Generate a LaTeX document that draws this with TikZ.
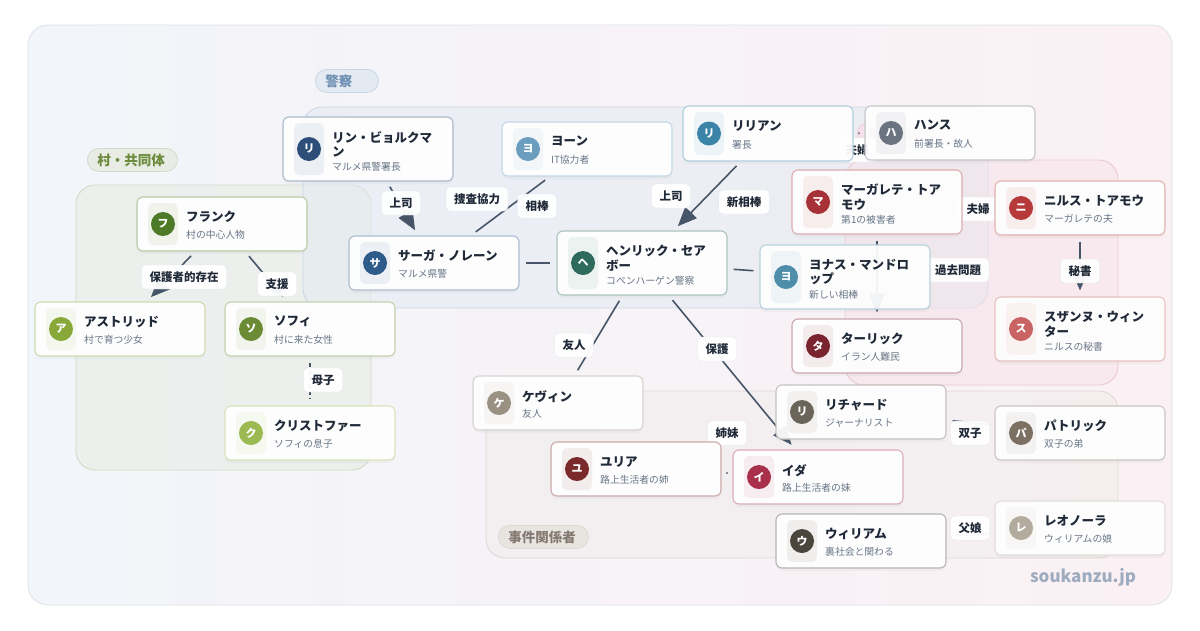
\documentclass[tikz,border=0pt]{standalone}
\usepackage{fontspec}
\setmainfont{Noto Sans CJK JP}
\usetikzlibrary{arrows.meta,shadows}
\definecolor{ink}{HTML}{1F2937}
\definecolor{subc}{HTML}{687587}
\definecolor{edgec}{HTML}{475569}
\definecolor{tagline}{HTML}{E2E7EE}
\definecolor{bgl}{HTML}{F2F5FA}
\definecolor{bgr}{HTML}{FBF1F4}
\definecolor{framec}{HTML}{DDE2EA}
\definecolor{gpol}{HTML}{E3EAF2}\definecolor{gpolc}{HTML}{CAD6E3}\definecolor{gpolt}{HTML}{6A8CB0}
\definecolor{gvil}{HTML}{E8ECE4}\definecolor{gvilc}{HTML}{D3DBC8}\definecolor{gvilt}{HTML}{6C8B3C}
\definecolor{gpin}{HTML}{F5E3E9}\definecolor{gpinc}{HTML}{ECCAD3}\definecolor{gpint}{HTML}{C7919F}
\definecolor{ggry}{HTML}{F0EDEC}\definecolor{ggryc}{HTML}{DED8D5}\definecolor{ggryt}{HTML}{857A72}
\definecolor{ggryp}{HTML}{E8E4E0}
\definecolor{wm}{HTML}{9EACBF}
% avatar colours
\definecolor{clin}{HTML}{2C4E78}\definecolor{cyoon}{HTML}{6B9DBF}
\definecolor{clil}{HTML}{3B84A8}\definecolor{chans}{HTML}{6B7280}
\definecolor{csaga}{HTML}{2F5B8A}\definecolor{chen}{HTML}{2E6B5C}
\definecolor{cjon}{HTML}{4E8EAA}\definecolor{cmar}{HTML}{A63238}
\definecolor{cnil}{HTML}{B63A3A}\definecolor{csus}{HTML}{C86464}
\definecolor{ctar}{HTML}{7A2430}\definecolor{cfra}{HTML}{4E7A28}
\definecolor{cast}{HTML}{89A83A}\definecolor{csof}{HTML}{6B8B35}
\definecolor{cchr}{HTML}{9CBA52}\definecolor{ckev}{HTML}{9A9182}
\definecolor{cric}{HTML}{6B6458}\definecolor{cjul}{HTML}{7A2A2A}
\definecolor{cida}{HTML}{A8304A}\definecolor{cwil}{HTML}{4A463C}
\definecolor{cpat}{HTML}{7C7062}\definecolor{cleo}{HTML}{B3AB9E}
\pgfdeclarelayer{groups}
\pgfdeclarelayer{edges}
\pgfsetlayers{groups,edges,main}
\tikzset{
  cardbox/.style={rectangle,rounded corners=6pt,minimum width=170pt,line width=1.1pt,
    fill=white,fill opacity=0.93,text opacity=1,
    drop shadow={opacity=0.06,shadow xshift=0pt,shadow yshift=-3pt}},
  avatar/.style={circle,minimum size=24pt,inner sep=0pt,text=white,
    font=\fontsize{11}{11}\bfseries},
  cardtitle/.style={anchor=north west,inner sep=0pt,align=left,text=ink,
    font=\fontsize{12.5}{14.5}\bfseries},
  cardsub/.style={anchor=west,inner sep=0pt,text=subc,font=\fontsize{9.8}{11}\selectfont},
  rel/.style={draw=edgec,line width=1.6pt,shorten <=6pt,shorten >=6pt},
  arr/.style={-{Triangle[length=19pt,width=16pt]}},
  tag/.style={rectangle,rounded corners=4pt,draw=tagline,fill=white,fill opacity=0.95,
    text opacity=1,text=ink,inner xsep=8pt,inner ysep=0pt,minimum height=24pt,
    font=\fontsize{11.5}{12}\bfseries},
  grp/.style={rounded corners=19pt,line width=0.9pt,fill opacity=0.55},
  pill/.style={anchor=north west,rectangle,rounded corners=11.5pt,inner xsep=10pt,
    inner ysep=0pt,minimum height=23pt,align=left,line width=0.8pt,
    font=\fontsize{13.5}{14}\bfseries}
}
% #1 name, #2 x, #3 y, #4 height, #5 colour, #6 letter, #7 title, #8 subtitle
\newcommand\card[8]{%
  \node[cardbox,draw=#5!40,minimum height=#4pt] (#1) at (#2+85,#3+#4/2) {};
  \fill[#5!9,rounded corners=5pt] (#2+11,#3+6) rectangle (#2+41,#3+#4-6);
  \node[avatar,fill=#5] (#1-av) at (#2+26,#3+#4/2) {#6};
  \node[cardtitle] (#1-t) at (#2+49,#3+14) {#7};
  \node[cardsub] (#1-s) at (#2+49,#3+1.2*#4-26.8) {#8};
}

\begin{document}
\begin{tikzpicture}[x=1pt,y=-1pt]
\useasboundingbox (0,0) rectangle (1200,630);
% police
\card{lin}{283}{117}{64}{clin}{リ}{リン・ビョルクマ\\ン}{マルメ県警署長}
\card{yoon}{502}{122}{54}{cyoon}{ヨ}{ヨーン}{IT協力者}
\card{lilian}{683}{106}{55}{clil}{リ}{リリアン}{署長}
\card{hans}{865}{106}{54}{chans}{ハ}{ハンス}{前署長・故人}
\card{saga}{349}{236}{54}{csaga}{サ}{サーガ・ノレーン}{マルメ県警}
\card{henrik}{557}{231}{64}{chen}{ヘ}{ヘンリック・セア\\ボー}{コペンハーゲン警察}
\card{jonas}{760}{245}{64}{cjon}{ヨ}{ヨナス・マンドロ\\ップ}{新しい相棒}
% around the case
\card{margrete}{792}{170}{64}{cmar}{マ}{マーガレテ・トア\\モウ}{第1の被害者}
\card{nils}{995}{181}{54}{cnil}{ニ}{ニルス・トアモウ}{マーガレテの夫}
\card{susanne}{995}{297}{64}{csus}{ス}{スザンヌ・ウィン\\ター}{ニルスの秘書}
\card{tarik}{792}{319}{54}{ctar}{タ}{ターリック}{イラン人難民}
% village
\card{frank}{137}{197}{54}{cfra}{フ}{フランク}{村の中心人物}
\card{astrid}{35}{302}{54}{cast}{ア}{アストリッド}{村で育つ少女}
\card{sofi}{225}{302}{54}{csof}{ソ}{ソフィ}{村に来た女性}
\card{chris}{225}{406}{54}{cchr}{ク}{クリストファー}{ソフィの息子}
% people in the case
\card{kevin}{473}{376}{54}{ckev}{ケ}{ケヴィン}{友人}
\card{richard}{776}{385}{54}{cric}{リ}{リチャード}{ジャーナリスト}
\card{julia}{551}{442}{54}{cjul}{ユ}{ユリア}{路上生活者の姉}
\card{ida}{733}{450}{54}{cida}{イ}{イダ}{路上生活者の妹}
\card{william}{776}{514}{54}{cwil}{ウ}{ウィリアム}{裏社会と関わる}
\card{patrick}{995}{406}{54}{cpat}{パ}{パトリック}{双子の弟}
\card{leonora}{995}{501}{54}{cleo}{レ}{レオノーラ}{ウィリアムの娘}
\node[font=\fontsize{17}{17}\bfseries,text=wm] (mark) at (1083,577) {soukanzu.jp};

\begin{pgfonlayer}{groups}
\fill[white] (0,0) rectangle (1200,630);
\shade[left color=bgl,right color=bgr,rounded corners=20pt] (28,25) rectangle (1172,605);
\draw[framec,line width=0.8pt,rounded corners=20pt] (28,25) rectangle (1172,605);
\draw[grp,fill=gvil,draw=gvilc] (76,185) rectangle (371,470);
\draw[grp,fill=gpol,draw=gpolc] (303,107) rectangle (988,308);
\draw[grp,fill=gpin,draw=gpinc] (845,160) rectangle (1118,385);
\draw[grp,fill=ggry,draw=ggryc] (486,391) rectangle (1118,558);
\node[pill,fill=gpol,draw=gpolc,text=gpolt,text width=43pt] (gpolice) at (315,69) {警察};
\node[pill,fill=gvil,draw=gvilc,text=gvilt,text width=70pt] (gvillage) at (87,148) {村・共同体};
\node[pill,fill=gpin,draw=gpinc,text=gpint,text width=56pt] (garound) at (857,122) {事件周辺};
\node[pill,fill=ggryp,draw=ggryc,text=ggryt,text width=70pt] (gcase) at (498,525) {事件関係者};
\end{pgfonlayer}

\begin{pgfonlayer}{edges}
\draw[rel,arr] (frank) -- (astrid);
\draw[rel,arr] (frank) -- (sofi);
\draw[rel,dash pattern=on 4pt off 3pt] (sofi) -- (chris);
\draw[rel,arr] (lin) -- (saga);
\draw[rel] (yoon) -- (saga);
\draw[rel] (saga) -- (henrik);
\draw[rel,arr] (lilian) -- (henrik);
\draw[rel] (henrik) -- (jonas);
\draw[rel] (lilian) -- (hans);
\draw[rel] (margrete) -- (nils);
\draw[rel,arr] (margrete) -- (tarik);
\draw[rel,arr] (nils) -- (susanne);
\draw[rel] (henrik) -- (kevin);
\draw[rel,arr] (henrik) -- (ida);
\draw[rel] (julia) -- (ida);
\draw[rel] (richard) -- (patrick);
\draw[rel] (william) -- (leonora);
% edge labels
\node[tag] (t-fa) at (184,277) {保護者的存在};
\node[tag] (t-fs) at (277,284) {支援};
\node[tag] (t-sc) at (323,380) {母子};
\node[tag] (t-ls) at (401,203) {上司};
\node[tag] (t-ys) at (477,199) {捜査協力};
\node[tag] (t-sh) at (537,206) {相棒};
\node[tag] (t-lh) at (671,196) {上司};
\node[tag] (t-hj) at (744,202) {新相棒};
\node[tag] (t-lha) at (857,150) {夫婦};
\node[tag] (t-mn) at (978,209) {夫婦};
\node[tag] (t-mt) at (958,270) {過去問題};
\node[tag] (t-ns) at (1080,271) {秘書};
\node[tag] (t-hk) at (574,345) {友人};
\node[tag] (t-hi) at (717,349) {保護};
\node[tag] (t-ji) at (727,433) {姉妹};
\node[tag] (t-rp) at (970,433) {双子};
\node[tag] (t-wl) at (970,528) {父娘};
\end{pgfonlayer}
\end{tikzpicture}
\end{document}
